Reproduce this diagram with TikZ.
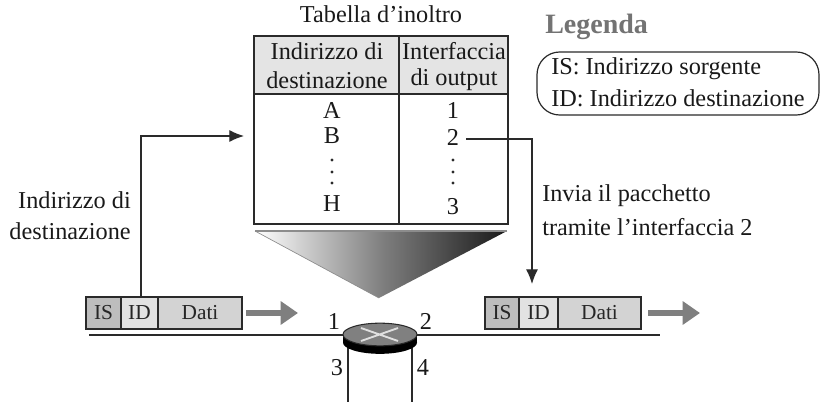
\documentclass[tikz,border=0pt]{standalone}
\usepackage{fontspec}
\setmainfont{Liberation Serif}
\usetikzlibrary{arrows.meta,shapes.geometric,calc}
\definecolor{ink}{HTML}{2A2A2A}
\definecolor{headgray}{HTML}{E4E4E4}
\definecolor{isgray}{HTML}{BDBDBD}
\definecolor{idgray}{HTML}{E2E2E2}
\definecolor{datagray}{HTML}{D3D3D3}
\definecolor{arrowgray}{HTML}{7F7F7F}
\definecolor{routergray}{HTML}{808080}
\tikzset{
  lbl/.style={inner sep=0pt,font=\fontsize{18.2}{20}\selectfont,text=black!90},
  pk/.style={draw=ink,line width=1.2pt,minimum height=24pt,inner sep=0pt,font=\fontsize{16}{18}\selectfont,text=black!85},
  conn/.style={draw=ink,line width=0.9pt,-{Latex[length=11pt,width=9pt]}},
  wire/.style={draw=ink,line width=1.1pt},
  fat/.style={draw=arrowgray,line width=5pt,-{Triangle[length=13pt,width=17pt]}}
}
\begin{document}
\begin{tikzpicture}[x=0.75pt,y=-0.75pt]
\useasboundingbox (0,0) rectangle (828,414);
\fill[white] (0,0) rectangle (828,414);
% table
\node[lbl] (title) at (381,14) {Tabella d’inoltro};
\path[fill=headgray] (254,36) rectangle (508,94);
\draw[ink,line width=1.2pt] (254,36) rectangle (508,224);
\draw[ink,line width=1.2pt] (254,94) -- (508,94);
\draw[ink,line width=1.2pt] (399,36) -- (399,224);
\node[lbl] (h1a) at (327,51) {Indirizzo di};
\node[lbl] (h1b) at (327,80) {destinazione};
\node[lbl] (h2a) at (454,51) {Interfaccia};
\node[lbl] (h2b) at (454,80) {di output};
\node[lbl] (ra) at (332,110) {A};
\node[lbl] (rb) at (332,136) {B};
\node[lbl] (rh) at (332,204) {H};
\node[lbl] (r1) at (453,110) {1};
\node[lbl] (r2) at (453,137) {2};
\node[lbl] (r3) at (453,207) {3};
\foreach \x in {332,453}\foreach \y in {160,172,183}\fill[ink] (\x,\y) circle (1.2pt);
% funnel
\shade[left color=white,right color=black!90,middle color=black!50] (255,231) -- (507,231) -- (379,298) -- cycle;
\draw[black!45,line width=0.8pt] (255,231) -- (507,231);
\draw[black!45,line width=0.5pt] (255,231) -- (379,298);
% left packet
\node[pk,fill=isgray,minimum width=26.25pt] (lis) at (103.5,313) {IS};
\node[pk,fill=idgray,minimum width=27.75pt] (lid) at (139.5,313) {ID};
\node[pk,fill=datagray,minimum width=63pt] (ldt) at (200,313) {Dati};
% right packet
\node[pk,fill=isgray,minimum width=25.5pt] (ris) at (502,313) {IS};
\node[pk,fill=idgray,minimum width=29.25pt] (rid) at (538.5,313) {ID};
\node[pk,fill=datagray,minimum width=62.25pt] (rdt) at (599.5,313) {Dati};
% fat arrows
\coordinate (fa1) at (246,313); \coordinate (fa2) at (298,313);
\coordinate (fb1) at (648,313); \coordinate (fb2) at (700,313);
\draw[fat] (fa1) -- (fa2);
\draw[fat] (fb1) -- (fb2);
% lines and router
\coordinate (wl) at (89,335); \coordinate (wr) at (660,335);
\coordinate (w3) at (348,402); \coordinate (w4) at (412,402);
\draw[wire] (wl) -- (wr);
\draw[wire] (348,345) -- (w3);
\draw[wire] (412,345) -- (w4);
\fill[black] (343,334.5) rectangle (417,342);
\node[ellipse,fill=black,minimum width=55.5pt,minimum height=17pt,inner sep=0pt] (rbase) at (380,342.5) {};
\node[ellipse,draw=ink,line width=0.8pt,fill=routergray,minimum width=55.5pt,minimum height=17pt,inner sep=0pt] (router) at (380,334.5) {};
\draw[white!88!black,line width=1.4pt] (361,328) -- (398,341) (361,341) -- (398,328);
\node[lbl] (p1) at (334,321) {1};
\node[lbl] (p2) at (426,321) {2};
\node[lbl] (p3) at (337,368) {3};
\node[lbl] (p4) at (423,368) {4};
% connectors
\coordinate (tin) at (244,136);
\coordinate (tup) at (141,297);
\draw[conn] (tup) -- (tup |- tin) -- (tin);
\coordinate (r2e) at (466,139);
\coordinate (rdn) at (532,284);
\draw[conn] (r2e) -- (r2e -| rdn) -- (rdn);
% side labels
\node[lbl,anchor=east] (sa) at (131,200) {Indirizzo di};
\node[lbl,anchor=east] (sb) at (131,231) {destinazione};
\node[lbl,anchor=west] (sc) at (542,196) {Invia il pacchetto};
\node[lbl,anchor=west] (sd) at (542,227) {tramite l’interfaccia 2};
% legend
\node[lbl,anchor=west,text=black!55,font=\fontsize{21}{24}\bfseries\selectfont] (leg) at (545,27) {Legenda};
\draw[ink,line width=0.9pt,rounded corners=17pt] (537,52) rectangle (819,115);
\node[lbl,anchor=west] (l1) at (551,69) {IS: Indirizzo sorgente};
\node[lbl,anchor=west] (l2) at (551,98) {ID: Indirizzo destinazione};
\end{tikzpicture}
\end{document}
